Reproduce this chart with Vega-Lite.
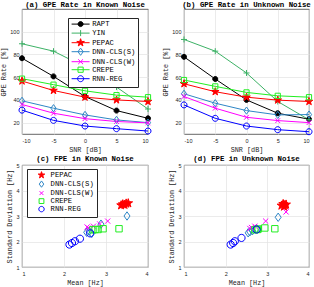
{
 "$schema": "https://vega.github.io/schema/vega-lite/v6.json",
 "padding": {"left": 0, "top": 0, "right": 0, "bottom": 0},
 "background": "white",
 "config": {
  "view": {"stroke": "#404040", "strokeWidth": 0.8},
  "title": {"font": "Liberation Mono", "fontSize": 7.4, "fontWeight": "bold", "color": "#000000", "anchor": "middle", "offset": 0.5},
  "axis": {"labelFont": "Liberation Sans", "labelFontSize": 5.5, "labelColor": "#262626", "titleFont": "Liberation Mono", "titleFontSize": 6.8, "titleFontWeight": "normal", "titleColor": "#262626", "domain": false, "ticks": false, "tickSize": 0, "gridColor": "#e3e3e3", "gridWidth": 0.7, "labelPadding": 3, "titlePadding": 3},
  "axisX": {"labelPadding": 4}
 },
 "datasets": {
  "gpeKnown": [
   {"method": "RAPT", "snr": -10, "rate": 76.7}, {"method": "RAPT", "snr": -5, "rate": 60.7}, {"method": "RAPT", "snr": 0, "rate": 43}, {"method": "RAPT", "snr": 5, "rate": 30.6}, {"method": "RAPT", "snr": 10, "rate": 23.8},
   {"method": "YIN", "snr": -10, "rate": 89.4}, {"method": "YIN", "snr": -5, "rate": 82.9}, {"method": "YIN", "snr": 0, "rate": 69}, {"method": "YIN", "snr": 5, "rate": 51.3}, {"method": "YIN", "snr": 10, "rate": 32},
   {"method": "PEPAC", "snr": -10, "rate": 56.6}, {"method": "PEPAC", "snr": -5, "rate": 48.3}, {"method": "PEPAC", "snr": 0, "rate": 42.4}, {"method": "PEPAC", "snr": 5, "rate": 40}, {"method": "PEPAC", "snr": 10, "rate": 38.6},
   {"method": "DNN-CLS(S)", "snr": -10, "rate": 39.2}, {"method": "DNN-CLS(S)", "snr": -5, "rate": 32.7}, {"method": "DNN-CLS(S)", "snr": 0, "rate": 26.8}, {"method": "DNN-CLS(S)", "snr": 5, "rate": 22.4}, {"method": "DNN-CLS(S)", "snr": 10, "rate": 20},
   {"method": "DNN-CLS(W)", "snr": -10, "rate": 36}, {"method": "DNN-CLS(W)", "snr": -5, "rate": 28.3}, {"method": "DNN-CLS(W)", "snr": 0, "rate": 23.5}, {"method": "DNN-CLS(W)", "snr": 5, "rate": 21}, {"method": "DNN-CLS(W)", "snr": 10, "rate": 19.8},
   {"method": "CREPE", "snr": -10, "rate": 58.7}, {"method": "CREPE", "snr": -5, "rate": 53.4}, {"method": "CREPE", "snr": 0, "rate": 48}, {"method": "CREPE", "snr": 5, "rate": 44.2}, {"method": "CREPE", "snr": 10, "rate": 42.4},
   {"method": "RNN-REG", "snr": -10, "rate": 31}, {"method": "RNN-REG", "snr": -5, "rate": 22}, {"method": "RNN-REG", "snr": 0, "rate": 17}, {"method": "RNN-REG", "snr": 5, "rate": 14.7}, {"method": "RNN-REG", "snr": 10, "rate": 12.6}
  ],
  "gpeUnknown": [
   {"method": "RAPT", "snr": -10, "rate": 77.9}, {"method": "RAPT", "snr": -5, "rate": 58.4}, {"method": "RAPT", "snr": 0, "rate": 40}, {"method": "RAPT", "snr": 5, "rate": 28.3}, {"method": "RAPT", "snr": 10, "rate": 23},
   {"method": "YIN", "snr": -10, "rate": 93.2}, {"method": "YIN", "snr": -5, "rate": 82.9}, {"method": "YIN", "snr": 0, "rate": 63.7}, {"method": "YIN", "snr": 5, "rate": 38.6}, {"method": "YIN", "snr": 10, "rate": 22.5},
   {"method": "PEPAC", "snr": -10, "rate": 54.2}, {"method": "PEPAC", "snr": -5, "rate": 47.2}, {"method": "PEPAC", "snr": 0, "rate": 42.4}, {"method": "PEPAC", "snr": 5, "rate": 39.8}, {"method": "PEPAC", "snr": 10, "rate": 38.6},
   {"method": "DNN-CLS(S)", "snr": -10, "rate": 45.4}, {"method": "DNN-CLS(S)", "snr": -5, "rate": 37.1}, {"method": "DNN-CLS(S)", "snr": 0, "rate": 30.6}, {"method": "DNN-CLS(S)", "snr": 5, "rate": 26.8}, {"method": "DNN-CLS(S)", "snr": 10, "rate": 27.1},
   {"method": "DNN-CLS(W)", "snr": -10, "rate": 43}, {"method": "DNN-CLS(W)", "snr": -5, "rate": 32.7}, {"method": "DNN-CLS(W)", "snr": 0, "rate": 24.7}, {"method": "DNN-CLS(W)", "snr": 5, "rate": 21.8}, {"method": "DNN-CLS(W)", "snr": 10, "rate": 20},
   {"method": "CREPE", "snr": -10, "rate": 57.5}, {"method": "CREPE", "snr": -5, "rate": 51.9}, {"method": "CREPE", "snr": 0, "rate": 46.6}, {"method": "CREPE", "snr": 5, "rate": 43.6}, {"method": "CREPE", "snr": 10, "rate": 42.4},
   {"method": "RNN-REG", "snr": -10, "rate": 35.6}, {"method": "RNN-REG", "snr": -5, "rate": 23.8}, {"method": "RNN-REG", "snr": 0, "rate": 17}, {"method": "RNN-REG", "snr": 5, "rate": 13.8}, {"method": "RNN-REG", "snr": 10, "rate": 12}
  ],
  "fpeKnown": [
   {"method": "PEPAC", "mean": 3.36, "sd": 3.42}, {"method": "PEPAC", "mean": 3.40, "sd": 3.46}, {"method": "PEPAC", "mean": 3.44, "sd": 3.44}, {"method": "PEPAC", "mean": 3.48, "sd": 3.49}, {"method": "PEPAC", "mean": 3.53, "sd": 3.50},
   {"method": "DNN-CLS(S)", "mean": 3.50, "sd": 3.00}, {"method": "DNN-CLS(S)", "mean": 2.88, "sd": 2.68}, {"method": "DNN-CLS(S)", "mean": 2.66, "sd": 2.32}, {"method": "DNN-CLS(S)", "mean": 2.60, "sd": 2.40}, {"method": "DNN-CLS(S)", "mean": 2.54, "sd": 2.36},
   {"method": "DNN-CLS(W)", "mean": 3.04, "sd": 2.80}, {"method": "DNN-CLS(W)", "mean": 2.85, "sd": 2.69}, {"method": "DNN-CLS(W)", "mean": 2.70, "sd": 2.60}, {"method": "DNN-CLS(W)", "mean": 2.58, "sd": 2.53}, {"method": "DNN-CLS(W)", "mean": 2.55, "sd": 2.57},
   {"method": "CREPE", "mean": 3.31, "sd": 2.50}, {"method": "CREPE", "mean": 2.93, "sd": 2.50}, {"method": "CREPE", "mean": 2.81, "sd": 2.47}, {"method": "CREPE", "mean": 2.74, "sd": 2.47}, {"method": "CREPE", "mean": 2.69, "sd": 2.46},
   {"method": "RNN-REG", "mean": 2.13, "sd": 1.88}, {"method": "RNN-REG", "mean": 2.19, "sd": 1.94}, {"method": "RNN-REG", "mean": 2.26, "sd": 2.01}, {"method": "RNN-REG", "mean": 2.38, "sd": 2.11}, {"method": "RNN-REG", "mean": 2.62, "sd": 2.32}
  ],
  "fpeUnknown": [
   {"method": "PEPAC", "mean": 3.34, "sd": 3.41}, {"method": "PEPAC", "mean": 3.38, "sd": 3.47}, {"method": "PEPAC", "mean": 3.42, "sd": 3.43}, {"method": "PEPAC", "mean": 3.40, "sd": 3.37}, {"method": "PEPAC", "mean": 3.45, "sd": 3.45},
   {"method": "DNN-CLS(S)", "mean": 3.26, "sd": 2.95}, {"method": "DNN-CLS(S)", "mean": 2.74, "sd": 2.51}, {"method": "DNN-CLS(S)", "mean": 2.58, "sd": 2.38}, {"method": "DNN-CLS(S)", "mean": 2.54, "sd": 2.34}, {"method": "DNN-CLS(S)", "mean": 2.64, "sd": 2.42},
   {"method": "DNN-CLS(W)", "mean": 3.45, "sd": 3.16}, {"method": "DNN-CLS(W)", "mean": 2.96, "sd": 2.80}, {"method": "DNN-CLS(W)", "mean": 2.70, "sd": 2.60}, {"method": "DNN-CLS(W)", "mean": 2.58, "sd": 2.51}, {"method": "DNN-CLS(W)", "mean": 2.62, "sd": 2.55},
   {"method": "CREPE", "mean": 3.18, "sd": 2.50}, {"method": "CREPE", "mean": 2.94, "sd": 2.53}, {"method": "CREPE", "mean": 2.76, "sd": 2.47}, {"method": "CREPE", "mean": 2.70, "sd": 2.46}, {"method": "CREPE", "mean": 2.78, "sd": 2.49},
   {"method": "RNN-REG", "mean": 2.12, "sd": 1.88}, {"method": "RNN-REG", "mean": 2.18, "sd": 1.94}, {"method": "RNN-REG", "mean": 2.22, "sd": 2.01}, {"method": "RNN-REG", "mean": 2.38, "sd": 2.14}, {"method": "RNN-REG", "mean": 2.74, "sd": 2.47}
  ]
 },
 "columns": 2,
 "spacing": {"row": 31, "column": 36},
 "bounds": "flush",
 "resolve": {
  "scale": {"stroke": "independent", "fill": "independent", "shape": "independent"},
  "legend": {"stroke": "independent", "fill": "independent", "shape": "independent"}
 },
 "concat": [
  {
   "width": 126, "height": 125,
   "title": {"text": "(a) GPE Rate in Known Noise"},
   "data": {"name": "gpeKnown"},
   "encoding": {
    "x": {"field": "snr", "type": "quantitative", "scale": {"domain": [-10, 10], "nice": false}, "axis": {"values": [-10, -5, 0, 5, 10], "labelExpr": "''+datum.value", "title": "SNR [dB]"}},
    "y": {"field": "rate", "type": "quantitative", "scale": {"domain": [10, 120], "nice": false}, "axis": {"values": [20, 40, 60, 80, 100], "labelExpr": "''+datum.value", "title": "GPE Rate [%]"}}
   },
   "resolve": {
    "scale": {"stroke": "independent", "fill": "independent", "shape": "independent"},
    "legend": {"stroke": "independent", "fill": "independent", "shape": "independent"}
   },
   "layer": [
    {"mark": {"type": "line", "strokeWidth": 1},
     "encoding": {"stroke": {"field": "method", "type": "nominal", "legend": null,
       "scale": {"domain": ["RAPT", "YIN", "PEPAC", "DNN-CLS(S)", "DNN-CLS(W)", "CREPE", "RNN-REG"], "range": ["#000000", "#3DB266", "#FF0000", "#2E86C6", "#FF00FF", "#22EE22", "#0000FF"]}}}},
    {"mark": {"type": "point", "opacity": 1, "strokeWidth": 1, "size": 16},
     "encoding": {
      "stroke": {"field": "method", "type": "nominal", "legend": null, "scale": {"domain": ["RAPT", "YIN", "PEPAC", "DNN-CLS(S)", "DNN-CLS(W)", "CREPE", "RNN-REG"], "range": ["#000000", "#3DB266", "#FF0000", "#2E86C6", "#FF00FF", "#22EE22", "#0000FF"]}},
      "fill": {"field": "method", "type": "nominal", "legend": null, "scale": {"domain": ["RAPT", "YIN", "PEPAC", "DNN-CLS(S)", "DNN-CLS(W)", "CREPE", "RNN-REG"], "range": ["#000000", "transparent", "#FF0000", "transparent", "transparent", "transparent", "transparent"]}},
      "shape": {"field": "method", "type": "nominal", "legend": null, "scale": {"domain": ["RAPT", "YIN", "PEPAC", "DNN-CLS(S)", "DNN-CLS(W)", "CREPE", "RNN-REG"], "range": ["M1.25,0A1.25,1.25 0 1,1 -1.25,0A1.25,1.25 0 1,1 1.25,0Z", "M-1.5,0H1.5M0,-1.5V1.5", "M0,-2L0.447,-0.615L1.902,-0.618L0.723,0.235L1.176,1.618L0,0.76L-1.176,1.618L-0.723,0.235L-1.902,-0.618L-0.447,-0.615Z", "M0,-1.8L1.3,0L0,1.8L-1.3,0Z", "M-1.2,-1.2L1.2,1.2M-1.2,1.2L1.2,-1.2", "M-1.3,-1.3H1.3V1.3H-1.3Z", "M1.5,0A1.5,1.5 0 1,1 -1.5,0A1.5,1.5 0 1,1 1.5,0Z"]}}
     }},
    {"transform": [{"filter": "false"}],
     "mark": {"type": "point", "opacity": 1, "strokeWidth": 1, "size": 16},
     "encoding": {
      "stroke": {"field": "method", "type": "nominal", "scale": {"domain": ["RAPT", "YIN", "PEPAC", "DNN-CLS(S)", "DNN-CLS(W)", "CREPE", "RNN-REG"], "range": ["#000000", "#3DB266", "#FF0000", "#2E86C6", "#FF00FF", "#22EE22", "#0000FF"]},
       "legend": {"orient": "none", "legendX": 46, "legendY": 9, "title": null, "fillColor": "white", "strokeColor": "#262626", "padding": 2.5,
         "labelFont": "Liberation Mono", "labelFontSize": 7.2, "labelColor": "#000000", "symbolSize": 16, "symbolStrokeWidth": 1, "symbolOffset": 6.5, "labelOffset": 8, "rowPadding": -2.4}},
      "fill": {"field": "method", "type": "nominal", "scale": {"domain": ["RAPT", "YIN", "PEPAC", "DNN-CLS(S)", "DNN-CLS(W)", "CREPE", "RNN-REG"], "range": ["#000000", "transparent", "#FF0000", "transparent", "transparent", "transparent", "transparent"]}},
      "shape": {"field": "method", "type": "nominal", "scale": {"domain": ["RAPT", "YIN", "PEPAC", "DNN-CLS(S)", "DNN-CLS(W)", "CREPE", "RNN-REG"], "range": ["M-4.5,0H4.5M1.25,0A1.25,1.25 0 1,1 -1.25,0A1.25,1.25 0 1,1 1.25,0Z", "M-4.5,0H4.5M0,-1.5V1.5", "M-4.5,0H4.5M0,-2L0.447,-0.615L1.902,-0.618L0.723,0.235L1.176,1.618L0,0.76L-1.176,1.618L-0.723,0.235L-1.902,-0.618L-0.447,-0.615Z", "M-4.5,0H4.5M0,-1.8L1.3,0L0,1.8L-1.3,0Z", "M-4.5,0H4.5M-1.2,-1.2L1.2,1.2M-1.2,1.2L1.2,-1.2", "M-4.5,0H4.5M-1.3,-1.3H1.3V1.3H-1.3Z", "M-4.5,0H4.5M1.5,0A1.5,1.5 0 1,1 -1.5,0A1.5,1.5 0 1,1 1.5,0Z"]}}
     }}
   ]
  },
  {
   "width": 125, "height": 125,
   "title": {"text": "(b) GPE Rate in Unknown Noise"},
   "data": {"name": "gpeUnknown"},
   "encoding": {
    "x": {"field": "snr", "type": "quantitative", "scale": {"domain": [-10, 10], "nice": false}, "axis": {"values": [-10, -5, 0, 5, 10], "labelExpr": "''+datum.value", "title": "SNR [dB]"}},
    "y": {"field": "rate", "type": "quantitative", "scale": {"domain": [10, 120], "nice": false}, "axis": {"values": [20, 40, 60, 80, 100], "labelExpr": "''+datum.value", "title": "GPE Rate [%]"}}
   },
   "layer": [
    {"mark": {"type": "line", "strokeWidth": 1},
     "encoding": {"stroke": {"field": "method", "type": "nominal", "legend": null,
       "scale": {"domain": ["RAPT", "YIN", "PEPAC", "DNN-CLS(S)", "DNN-CLS(W)", "CREPE", "RNN-REG"], "range": ["#000000", "#3DB266", "#FF0000", "#2E86C6", "#FF00FF", "#22EE22", "#0000FF"]}}}},
    {"mark": {"type": "point", "opacity": 1, "strokeWidth": 1, "size": 16},
     "encoding": {
      "stroke": {"field": "method", "type": "nominal", "legend": null, "scale": {"domain": ["RAPT", "YIN", "PEPAC", "DNN-CLS(S)", "DNN-CLS(W)", "CREPE", "RNN-REG"], "range": ["#000000", "#3DB266", "#FF0000", "#2E86C6", "#FF00FF", "#22EE22", "#0000FF"]}},
      "fill": {"field": "method", "type": "nominal", "legend": null, "scale": {"domain": ["RAPT", "YIN", "PEPAC", "DNN-CLS(S)", "DNN-CLS(W)", "CREPE", "RNN-REG"], "range": ["#000000", "transparent", "#FF0000", "transparent", "transparent", "transparent", "transparent"]}},
      "shape": {"field": "method", "type": "nominal", "legend": null, "scale": {"domain": ["RAPT", "YIN", "PEPAC", "DNN-CLS(S)", "DNN-CLS(W)", "CREPE", "RNN-REG"], "range": ["M1.25,0A1.25,1.25 0 1,1 -1.25,0A1.25,1.25 0 1,1 1.25,0Z", "M-1.5,0H1.5M0,-1.5V1.5", "M0,-2L0.447,-0.615L1.902,-0.618L0.723,0.235L1.176,1.618L0,0.76L-1.176,1.618L-0.723,0.235L-1.902,-0.618L-0.447,-0.615Z", "M0,-1.8L1.3,0L0,1.8L-1.3,0Z", "M-1.2,-1.2L1.2,1.2M-1.2,1.2L1.2,-1.2", "M-1.3,-1.3H1.3V1.3H-1.3Z", "M1.5,0A1.5,1.5 0 1,1 -1.5,0A1.5,1.5 0 1,1 1.5,0Z"]}}
     }}
   ]
  },
  {
   "width": 126, "height": 102,
   "title": {"text": "(c) FPE in Known Noise"},
   "data": {"name": "fpeKnown"},
   "mark": {"type": "point", "opacity": 1, "strokeWidth": 1, "size": 16},
   "encoding": {
    "x": {"field": "mean", "type": "quantitative", "scale": {"domain": [1, 4], "nice": false}, "axis": {"values": [1, 2, 3, 4], "title": "Mean [Hz]"}},
    "y": {"field": "sd", "type": "quantitative", "scale": {"domain": [1, 5], "nice": false}, "axis": {"values": [1, 2, 3, 4, 5], "title": "Standard Deviation [Hz]"}},
    "stroke": {"field": "method", "type": "nominal", "scale": {"domain": ["PEPAC", "DNN-CLS(S)", "DNN-CLS(W)", "CREPE", "RNN-REG"], "range": ["#FF0000", "#2E86C6", "#FF00FF", "#22EE22", "#0000FF"]},
      "legend": {"orient": "none", "legendX": 5, "legendY": 4, "title": null, "fillColor": "white", "strokeColor": "#262626", "padding": 2.5,
        "labelFont": "Liberation Mono", "labelFontSize": 7.2, "labelColor": "#000000", "symbolSize": 9, "symbolStrokeWidth": 1, "symbolOffset": 8.4, "labelOffset": 5.5, "rowPadding": -2.5}},
    "fill": {"field": "method", "type": "nominal", "scale": {"domain": ["PEPAC", "DNN-CLS(S)", "DNN-CLS(W)", "CREPE", "RNN-REG"], "range": ["#FF0000", "transparent", "transparent", "transparent", "transparent"]}},
    "shape": {"field": "method", "type": "nominal", "scale": {"domain": ["PEPAC", "DNN-CLS(S)", "DNN-CLS(W)", "CREPE", "RNN-REG"], "range": ["M0,-2.3L0.514,-0.707L2.187,-0.711L0.831,0.27L1.352,1.861L0,0.874L-1.352,1.861L-0.831,0.27L-2.187,-0.711L-0.514,-0.707Z", "M0,-2.1L1.5,0L0,2.1L-1.5,0Z", "M-1.3,-1.3L1.3,1.3M-1.3,1.3L1.3,-1.3", "M-1.6,-1.6H1.6V1.6H-1.6Z", "M1.8,0A1.8,1.8 0 1,1 -1.8,0A1.8,1.8 0 1,1 1.8,0Z"]}}
   }
  },
  {
   "width": 125, "height": 102,
   "title": {"text": "(d) FPE in Unknown Noise"},
   "data": {"name": "fpeUnknown"},
   "mark": {"type": "point", "opacity": 1, "strokeWidth": 1, "size": 16},
   "encoding": {
    "x": {"field": "mean", "type": "quantitative", "scale": {"domain": [1, 4], "nice": false}, "axis": {"values": [1, 2, 3, 4], "title": "Mean [Hz]"}},
    "y": {"field": "sd", "type": "quantitative", "scale": {"domain": [1, 5], "nice": false}, "axis": {"values": [1, 2, 3, 4, 5], "title": "Standard Deviation [Hz]"}},
    "stroke": {"field": "method", "type": "nominal", "legend": null, "scale": {"domain": ["PEPAC", "DNN-CLS(S)", "DNN-CLS(W)", "CREPE", "RNN-REG"], "range": ["#FF0000", "#2E86C6", "#FF00FF", "#22EE22", "#0000FF"]}},
    "fill": {"field": "method", "type": "nominal", "legend": null, "scale": {"domain": ["PEPAC", "DNN-CLS(S)", "DNN-CLS(W)", "CREPE", "RNN-REG"], "range": ["#FF0000", "transparent", "transparent", "transparent", "transparent"]}},
    "shape": {"field": "method", "type": "nominal", "legend": null, "scale": {"domain": ["PEPAC", "DNN-CLS(S)", "DNN-CLS(W)", "CREPE", "RNN-REG"], "range": ["M0,-2.3L0.514,-0.707L2.187,-0.711L0.831,0.27L1.352,1.861L0,0.874L-1.352,1.861L-0.831,0.27L-2.187,-0.711L-0.514,-0.707Z", "M0,-2.1L1.5,0L0,2.1L-1.5,0Z", "M-1.3,-1.3L1.3,1.3M-1.3,1.3L1.3,-1.3", "M-1.6,-1.6H1.6V1.6H-1.6Z", "M1.8,0A1.8,1.8 0 1,1 -1.8,0A1.8,1.8 0 1,1 1.8,0Z"]}}
   }
  }
 ]
}
